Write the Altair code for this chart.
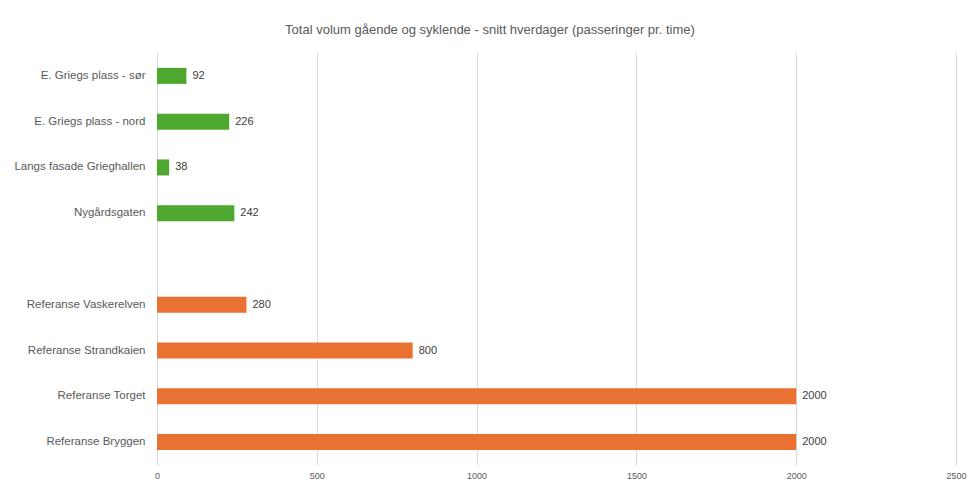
import altair as alt
import pandas as pd

categories = [
    "E. Griegs plass - sør",
    "E. Griegs plass - nord",
    "Langs fasade Grieghallen",
    "Nygårdsgaten",
    "Referanse Vaskerelven",
    "Referanse Strandkaien",
    "Referanse Torget",
    "Referanse Bryggen",
]
values = [92, 226, 38, 242, 280, 800, 2000, 2000]
groups = ["Målt", "Målt", "Målt", "Målt", "Referanse", "Referanse", "Referanse", "Referanse"]

domain_order = categories[:4] + [" "] + categories[4:]
x_ticks = [0, 500, 1000, 1500, 2000, 2500]

df = pd.DataFrame({"kategori": categories, "verdi": values, "gruppe": groups})

FONT = "Liberation Sans"

y_enc = alt.Y(
    "kategori:N",
    scale=alt.Scale(domain=domain_order, paddingInner=0, paddingOuter=0),
    axis=alt.Axis(
        title=None, domain=False, ticks=False, labelPadding=12,
        labelFontSize=11.5, labelColor="#595959", labelFont=FONT, labelLimit=300,
    ),
)
x_enc = alt.X(
    "verdi:Q",
    scale=alt.Scale(domain=[0, 2500], nice=False),
    axis=alt.Axis(
        title=None, values=x_ticks, format="d", domain=False, ticks=False, labelPadding=6,
        labelFontSize=9, labelColor="#595959", labelFont=FONT, labelFlush=False,
        grid=True, gridColor="#D9D9D9", gridWidth=1,
    ),
)

bars = alt.Chart(df).mark_bar(size=16).encode(
    y=y_enc,
    x=x_enc,
    color=alt.Color(
        "gruppe:N",
        scale=alt.Scale(domain=["Målt", "Referanse"], range=["#4EA72E", "#E97132"]),
        legend=None,
    ),
)

labels = alt.Chart(df).mark_text(
    align="left", baseline="middle", dx=6, fontSize=11, color="#404040", font=FONT
).encode(
    y=alt.Y("kategori:N", scale=alt.Scale(domain=domain_order, paddingInner=0, paddingOuter=0)),
    x="verdi:Q",
    text="verdi:Q",
)

chart = (
    alt.layer(bars, labels)
    .properties(
        width=799,
        height=412,
        autosize=alt.AutoSizeParams(type="none"),
        padding={"left": 157, "top": 53, "right": 12, "bottom": 18},
        title=alt.TitleParams(
            "Total volum gående og syklende - snitt hverdager (passeringer pr. time)",
            fontSize=13, fontWeight="normal", color="#595959", font=FONT,
            anchor="middle", frame="bounds", offset=16,
        ),
        background="white",
    )
    .configure_view(stroke=None)
)

chart.save("out.html", embed_options={"renderer": "svg", "actions": False})
